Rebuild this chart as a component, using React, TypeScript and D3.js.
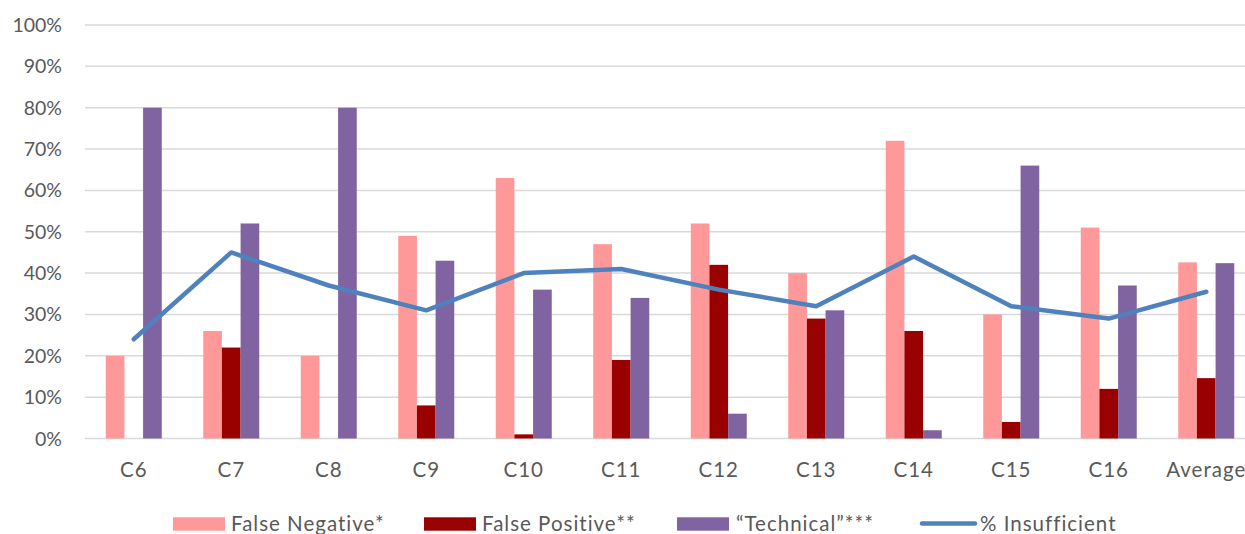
import React from "react";
import * as d3 from "d3";

const categories = ["C6", "C7", "C8", "C9", "C10", "C11", "C12", "C13", "C14", "C15", "C16", "Average"];
const falseNegative = [20, 26, 20, 49, 63, 47, 52, 40, 72, 30, 51, 42.6];
const falsePositive = [0, 22, 0, 8, 1, 19, 42, 29, 26, 4, 12, 14.6];
const technical = [80, 52, 80, 43, 36, 34, 6, 31, 2, 66, 37, 42.4];
const insufficient = [24, 45, 37, 31, 40, 41, 36, 32, 44, 32, 29, 35.5];
const yTicks = [0, 10, 20, 30, 40, 50, 60, 70, 80, 90, 100];

const seriesNames = ["False Negative*", "False Positive**", "\u201CTechnical\u201D***"];
const seriesColors = ["#FF9999", "#990000", "#8064A2"];
const lineName = "% Insufficient";
const lineColor = "#4F81BD";

const W = 1245;
const H = 534;
const FONT = "Lato, 'Open Sans', sans-serif";
const TEXT = "#595959";

export default function App() {
  const x0 = d3
    .scaleBand<string>()
    .domain(categories)
    .range([85, 1255])
    .paddingInner(0.4256)
    .paddingOuter(0.2128);
  const keys = [0, 1, 2];
  const x1 = d3.scaleBand<number>().domain(keys).range([0, x0.bandwidth()]);
  const y = d3.scaleLinear().domain([0, 100]).range([438.5, 25]);
  const series = [falseNegative, falsePositive, technical];
  const cx = (c: string) => (x0(c) as number) + x0.bandwidth() / 2;
  const line = d3
    .line<number>()
    .x((_, i) => cx(categories[i]))
    .y((d) => y(d));

  const legendItems = [
    { x: 173, tx: 231, type: "bar", color: seriesColors[0], label: seriesNames[0] },
    { x: 424, tx: 482, type: "bar", color: seriesColors[1], label: seriesNames[1] },
    { x: 677, tx: 736, type: "bar", color: seriesColors[2], label: seriesNames[2] },
    { x: 922, tx: 980, type: "line", color: lineColor, label: lineName },
  ];

  return (
    <svg
      width={W}
      height={H}
      style={{ position: "absolute", left: 0, top: 0, background: "#fff" }}
      fontFamily={FONT}
    >
      <rect x={0} y={0} width={W} height={H} fill="#fff" />
      {yTicks.map((t) => (
        <g key={t}>
          <line x1={85} x2={W} y1={y(t)} y2={y(t)} stroke="#D9D9D9" strokeWidth={1.5} />
          <text x={62} y={y(t) + 7} textAnchor="end" fontSize={19.5} fill={TEXT}>
            {t}%
          </text>
        </g>
      ))}
      {series.map((vals, si) => (
        <g key={si} fill={seriesColors[si]}>
          {vals.map((v, i) =>
            v > 0 ? (
              <rect
                key={i}
                x={(x0(categories[i]) as number) + (x1(si) as number)}
                y={y(v)}
                width={x1.bandwidth()}
                height={y(0) - y(v)}
              />
            ) : null
          )}
        </g>
      ))}
      <path
        d={line(insufficient) as string}
        fill="none"
        stroke={lineColor}
        strokeWidth={4.5}
        strokeLinecap="round"
        strokeLinejoin="round"
      />
      {categories.map((c) => (
        <text
          key={c}
          x={cx(c)}
          y={477}
          textAnchor="middle"
          fontSize={20.5}
          letterSpacing={1}
          fill={TEXT}
        >
          {c}
        </text>
      ))}
      {legendItems.map((it) => (
        <g key={it.label}>
          {it.type === "bar" ? (
            <rect x={it.x} y={517.3} width={52} height={13.4} fill={it.color} />
          ) : (
            <line
              x1={it.x}
              x2={it.x + 53}
              y1={523.5}
              y2={523.5}
              stroke={it.color}
              strokeWidth={4.5}
              strokeLinecap="round"
            />
          )}
          <text x={it.tx} y={531} fontSize={20.5} letterSpacing={1} fill={TEXT}>
            {it.label}
          </text>
        </g>
      ))}
    </svg>
  );
}
